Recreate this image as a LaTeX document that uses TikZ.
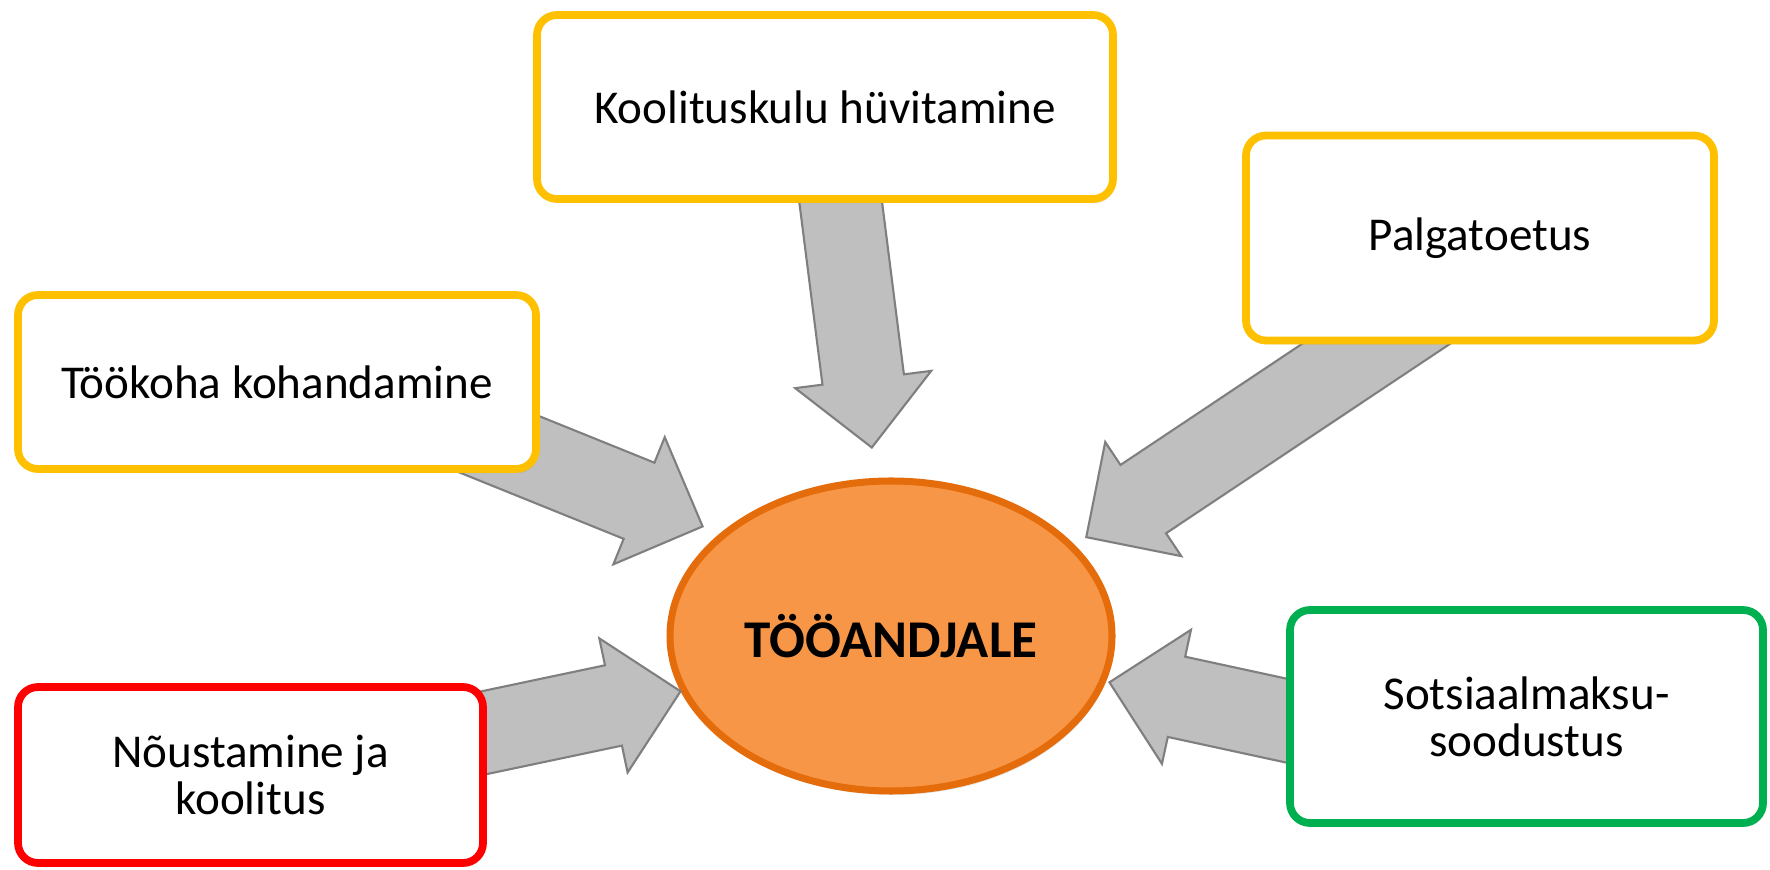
\documentclass[tikz,border=0pt]{standalone}
\usepackage{fontspec}
\setmainfont{Carlito}
\usetikzlibrary{shapes.geometric,shapes.arrows,shadows}

\definecolor{kollane}{HTML}{FFC000}
\definecolor{punane}{HTML}{FF0000}
\definecolor{roheline}{HTML}{00B050}
\definecolor{oranzfill}{HTML}{F79646}
\definecolor{oranzjoon}{HTML}{E46C0A}
\definecolor{hallfill}{HTML}{BFBFBF}
\definecolor{halljoon}{HTML}{7F7F7F}

\begin{document}
\begin{tikzpicture}[
        kast/.style={draw=#1, line width=2.2pt, fill=white, rounded corners=0.2cm,
            align=center, inner sep=0pt, font=\fontsize{13.4}{13.4}\selectfont,
            drop shadow={opacity=0.2, shadow xshift=0.02cm, shadow yshift=-0.04cm}},
        nool/.style={single arrow, draw=halljoon, fill=hallfill, line width=0.6pt,
            minimum width=1.35cm, single arrow head extend=0.275cm,
            inner xsep=0pt, inner ysep=0.4cm,
            sloped, allow upside down, anchor=tip, pos=1}]
    \useasboundingbox (0,0) rectangle (17.7,8.69);

    % Keskne ellips
    \node[ellipse, draw=oranzjoon, fill=oranzfill, line width=2pt, inner sep=0pt,
        minimum width=4.42cm, minimum height=3.10cm,
        drop shadow={opacity=0.2, shadow xshift=0.02cm, shadow yshift=-0.04cm},
        font=\bfseries\fontsize{15.1}{15.1}\selectfont] (toa) at (8.91,2.33) {TÖÖANDJALE};

    % Noolte otsad (saba jaab kasti alla)
    \coordinate (s1) at (8.355,7.077);  \coordinate (o1) at (8.72,4.20);
    \coordinate (s2) at (14.344,5.641); \coordinate (o2) at (10.85,3.31);
    \coordinate (s3) at (4.258,4.544);  \coordinate (o3) at (7.04,3.42);
    \coordinate (s4) at (3.884,1.161);  \coordinate (o4) at (6.82,1.78);
    \coordinate (s5) at (13.62,1.32);   \coordinate (o5) at (11.08,1.87);

    % Nooled
    \path (s1) -- (o1) node[nool, minimum height=2.9cm] {};
    \path (s2) -- (o2) node[nool, minimum height=4.2cm] {};
    \path (s3) -- (o3) node[nool, minimum height=3.0cm] {};
    \path (s4) -- (o4) node[nool, minimum height=3.0cm] {};
    \path (s5) -- (o5) node[nool, minimum height=2.6cm] {};

    % Kastid
    \node[kast=kollane, minimum width=5.76cm, minimum height=1.84cm] (kool) at (8.25,7.62) {Koolituskulu hüvitamine};
    \node[kast=kollane, minimum width=4.68cm, minimum height=2.05cm] (palk) at (14.80,6.31) {Palgatoetus};
    \node[kast=kollane, minimum width=5.18cm, minimum height=1.74cm] (koht) at (2.77,4.87) {Töökoha kohandamine};
    \node[kast=punane, minimum width=4.65cm, minimum height=1.76cm] (nous) at (2.505,0.94) {Nõustamine ja\\koolitus};
    \node[kast=roheline, minimum width=4.73cm, minimum height=2.13cm] (sots) at (15.265,1.525) {Sotsiaalmaksu-\\soodustus};
\end{tikzpicture}
\end{document}
